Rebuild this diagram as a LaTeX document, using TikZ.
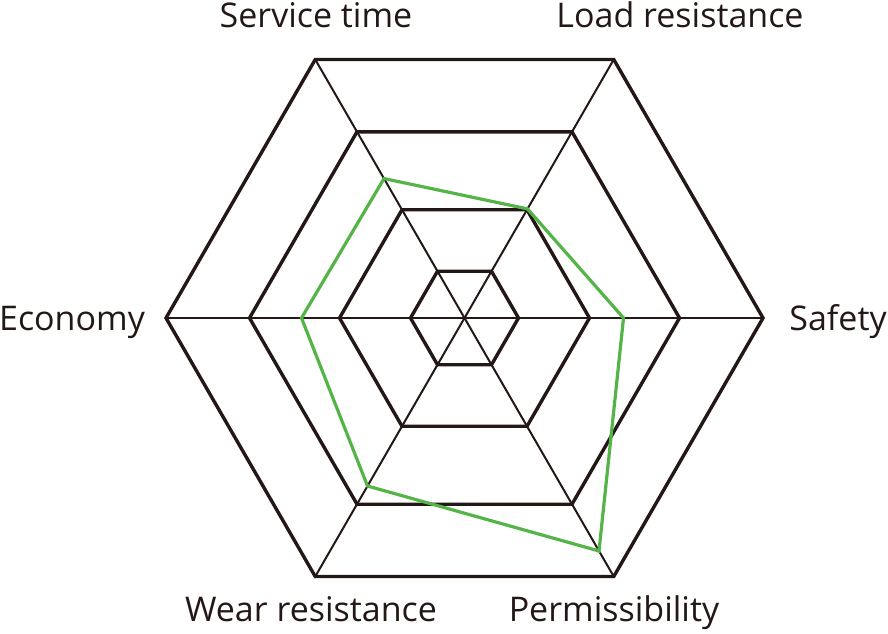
\documentclass[tikz,border=0pt]{standalone}
\usepackage{fontspec}
\setmainfont{Open Sans}
\usetikzlibrary{calc}
\definecolor{scoregreen}{RGB}{84,180,72}
\definecolor{inkdark}{RGB}{35,24,21}
\begin{document}
\begin{tikzpicture}[x=1pt,y=1pt,
  ring/.style={draw=inkdark, line width=3.4pt, line join=miter},
  spoke/.style={draw=inkdark, line width=2pt},
  score/.style={draw=scoregreen, line width=3.2pt, line join=miter},
  lab/.style={font=\fontsize{34}{34}\selectfont, text=inkdark, anchor=base, inner sep=0pt}]
\useasboundingbox (0,0) rectangle (888,633);
\coordinate (O) at (464.5,315);
% vertices of the rings
\foreach \k/\r in {1/298.5,2/215,3/125,4/54}{
  \foreach \i/\a in {1/0,2/60,3/120,4/180,5/240,6/300}{
    \coordinate (r\k-\i) at ($(O)+(\a:\r)$);
  }
}
% spokes
\foreach \i in {1,...,6}{
  \draw[spoke] (O) -- (r1-\i);
}
% rings
\foreach \k in {1,...,4}{
  \draw[ring] (r\k-1) -- (r\k-2) -- (r\k-3) -- (r\k-4) -- (r\k-5) -- (r\k-6) -- cycle;
}
% scores
\coordinate (g1) at ($(O)+(0:159)$);
\coordinate (g2) at ($(O)+(60:126)$);
\coordinate (g3) at ($(O)+(120:161)$);
\coordinate (g4) at ($(O)+(180:163)$);
\coordinate (g5) at ($(O)+(240:194)$);
\coordinate (g6) at ($(O)+(300:269)$);
\draw[score] (g1) -- (g2) -- (g3) -- (g4) -- (g5) -- (g6) -- cycle;
% labels
\node[lab] (tservice) at (316,605) {Service time};
\node[lab] (tload) at (680,605) {Load resistance};
\node[lab] (tecon) at (72,303) {Economy};
\node[lab] (tsafe) at (838,303) {Safety};
\node[lab] (twear) at (311,12) {Wear resistance};
\node[lab] (tperm) at (614,12) {Permissibility};
\end{tikzpicture}
\end{document}
